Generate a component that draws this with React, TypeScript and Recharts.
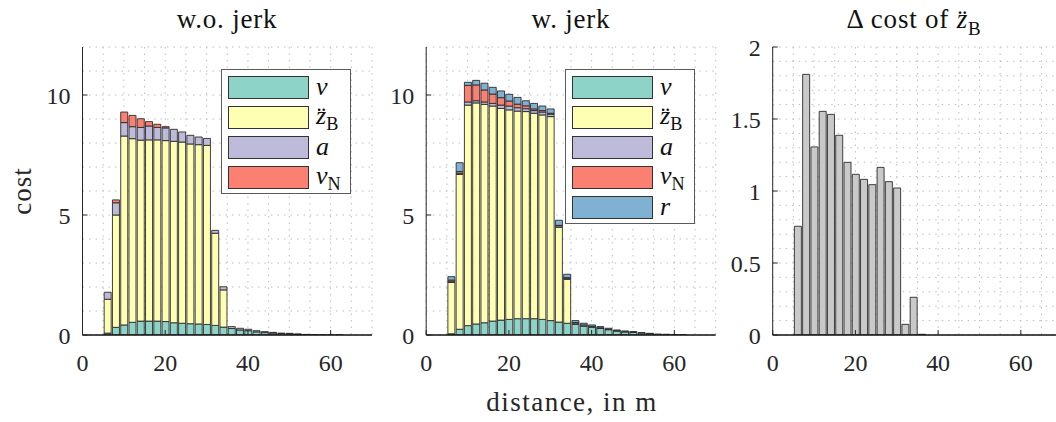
import React from 'react'
import { BarChart, Bar, XAxis, YAxis, CartesianGrid, Legend } from 'recharts'

const FONT = '"Liberation Serif", "DejaVu Serif", serif'
const INK = '#262626'

// distance bins, in m
const distance = [6, 8, 10, 12, 14, 16, 18, 20, 22, 24, 26, 28, 30, 32, 34, 36, 38, 40, 42, 44, 46, 48, 50, 52, 54, 56, 58, 60, 62]

// w.o. jerk
const vWo = [0.08, 0.32, 0.42, 0.53, 0.58, 0.58, 0.58, 0.56, 0.51, 0.49, 0.47, 0.46, 0.44, 0.4, 0.33, 0.27, 0.21, 0.18, 0.13, 0.1, 0.08, 0.06, 0.05, 0.03, 0.025, 0.015, 0.01, 0.006, 0.003]
const zbWo = [1.41, 4.68, 7.87, 7.65, 7.54, 7.55, 7.55, 7.54, 7.56, 7.55, 7.49, 7.47, 7.46, 3.84, 1.55, 0, 0, 0, 0, 0, 0, 0, 0, 0, 0, 0, 0, 0, 0]
const aWo = [0.29, 0.51, 0.56, 0.5, 0.53, 0.58, 0.52, 0.53, 0.5, 0.42, 0.36, 0.32, 0.29, 0.12, 0.13, 0.08, 0.07, 0.06, 0.05, 0.04, 0.03, 0.02, 0.02, 0.01, 0, 0, 0, 0, 0]
const vnWo = [0, 0.12, 0.44, 0.47, 0.36, 0.18, 0.13, 0.05, 0, 0, 0, 0, 0, 0, 0, 0, 0, 0, 0, 0, 0, 0, 0, 0, 0, 0, 0, 0, 0]

// w. jerk
const vW = [0.05, 0.24, 0.39, 0.46, 0.51, 0.58, 0.62, 0.65, 0.68, 0.68, 0.68, 0.65, 0.6, 0.54, 0.49, 0.44, 0.37, 0.32, 0.27, 0.22, 0.16, 0.13, 0.11, 0.08, 0.06, 0.04, 0.03, 0.02, 0.01]
const zbW = [2.14, 6.45, 9.19, 9.21, 9.1, 8.96, 8.82, 8.73, 8.65, 8.63, 8.56, 8.52, 8.5, 3.95, 1.83, 0, 0, 0, 0, 0, 0, 0, 0, 0, 0, 0, 0, 0, 0]
const aW = [0.03, 0.05, 0.13, 0.09, 0.1, 0.11, 0.14, 0.16, 0.14, 0.12, 0.11, 0.12, 0.1, 0.06, 0.05, 0.06, 0.05, 0.04, 0.03, 0.02, 0.02, 0.01, 0.01, 0, 0, 0, 0, 0, 0]
const vnW = [0.07, 0.07, 0.69, 0.66, 0.5, 0.39, 0.31, 0.21, 0.15, 0.12, 0.07, 0.06, 0.04, 0.02, 0.02, 0.02, 0, 0, 0, 0, 0, 0, 0, 0, 0, 0, 0, 0, 0]
const rW = [0.14, 0.37, 0.13, 0.19, 0.28, 0.28, 0.28, 0.28, 0.28, 0.21, 0.23, 0.19, 0.18, 0.21, 0.14, 0.08, 0.07, 0.06, 0.05, 0.04, 0.03, 0.03, 0.02, 0.02, 0.01, 0, 0, 0, 0]

// delta cost of zB
const deltaZb = [0.755, 1.81, 1.306, 1.553, 1.532, 1.387, 1.199, 1.116, 1.081, 1.044, 1.164, 1.065, 1.021, 0.074, 0.262, 0.005, 0, 0, 0, 0, 0, 0, 0, 0, 0, 0, 0, 0, 0]

const xTicks = [0, 20, 40, 60]
const xGrid = [0, 5, 10, 15, 20, 25, 30, 35, 40, 45, 50, 55, 60, 65, 70]
const costTicks = [0, 5, 10]
const costGrid = [0, 1, 2, 3, 4, 5, 6, 7, 8, 9, 10, 11, 12]
const deltaTicks = [0, 0.5, 1, 1.5, 2]
const deltaGrid = [0, 0.1, 0.2, 0.3, 0.4, 0.5, 0.6, 0.7, 0.8, 0.9, 1, 1.1, 1.2, 1.3, 1.4, 1.5, 1.6, 1.7, 1.8, 1.9, 2]

const sub = (t: string) => (
  <span style={{ fontSize: '0.7em', position: 'relative', top: '0.35em' }}>{t}</span>
)

const seriesWo = [
  { key: 'v', color: '#8dd3c7', label: <i>v</i> },
  { key: 'zb', color: '#ffffb3', label: <><i>z̈</i>{sub('B')}</> },
  { key: 'a', color: '#bebada', label: <i>a</i> },
  { key: 'vn', color: '#fb8072', label: <><i>v</i>{sub('N')}</> },
]
const seriesW = [...seriesWo, { key: 'r', color: '#80b1d3', label: <i>r</i> }]

const dataWo = distance.map((d, i) => ({ d, v: vWo[i], zb: zbWo[i], a: aWo[i], vn: vnWo[i] }))
const dataW = distance.map((d, i) => ({ d, v: vW[i], zb: zbW[i], a: aW[i], vn: vnW[i], r: rW[i] }))
const dataDelta = distance.map((d, i) => ({ d, delta: deltaZb[i] }))

const PLOT_W = 289.5
const tickStyle = { fill: INK, fontSize: 24, fontFamily: FONT }

function LegendBox({ series }: { series: typeof seriesW }) {
  return (
    <div style={{
      width: 130, height: series.length * 30 + 5, boxSizing: 'border-box',
      border: '1px solid #5a5a5a', background: '#fff', padding: '2px 0 0 6px', fontFamily: FONT, color: '#111',
    }}>
      {series.map(s => (
        <div key={s.key} style={{ display: 'flex', alignItems: 'center', height: 30 }}>
          <span style={{ width: 81, height: 23, background: s.color, border: '1px solid #333', boxSizing: 'border-box', flex: 'none' }} />
          <span style={{ marginLeft: 7, fontSize: 26, lineHeight: '26px' }}>{s.label}</span>
        </div>
      ))}
    </div>
  )
}

interface PanelProps {
  left: number
  yAxisWidth: number
  data: Array<Record<string, number>>
  series: Array<{ key: string; color: string }>
  yMax: number
  yTicks: number[]
  yGrid: number[]
  legend?: { left: number; series: typeof seriesW }
}

function Panel({ left, yAxisWidth, data, series, yMax, yTicks, yGrid, legend }: PanelProps) {
  const width = yAxisWidth + PLOT_W + 8
  return (
    <div style={{ position: 'absolute', left, top: 0 }}>
      <BarChart width={width} height={422} data={data} barSize={7}
        margin={{ top: 47, right: 8, bottom: 47, left: 0 }}>
        <CartesianGrid stroke="#bdbdbd" strokeDasharray="1.5 5" verticalValues={xGrid} horizontalValues={yGrid} />
        <XAxis dataKey="d" type="number" domain={[0, 70]} allowDataOverflow ticks={xTicks} interval={0}
          height={40} tickSize={-5} tickMargin={24} tick={tickStyle}
          axisLine={{ stroke: '#111', strokeWidth: 1.5 }} tickLine={{ stroke: INK }} />
        <XAxis xAxisId="top" orientation="top" dataKey="d" type="number" domain={[0, 70]} allowDataOverflow
          ticks={xTicks} interval={0} height={0} tickSize={-5} tickFormatter={() => ''}
          axisLine={{ stroke: INK }} tickLine={{ stroke: INK }} />
        <YAxis type="number" domain={[0, yMax]} allowDataOverflow ticks={yTicks} interval={0}
          width={yAxisWidth} tickSize={-5} tickMargin={17} tick={tickStyle}
          axisLine={{ stroke: INK }} tickLine={{ stroke: INK }} />
        <YAxis yAxisId="right" orientation="right" type="number" domain={[0, yMax]} allowDataOverflow
          ticks={yTicks} interval={0} width={0} tickSize={-5} tickFormatter={() => ''}
          axisLine={{ stroke: INK }} tickLine={{ stroke: INK }} />
        {series.map(s => (
          <Bar key={s.key} dataKey={s.key} stackId="s" fill={s.color} stroke="#2b2b2b" strokeWidth={0.9}
            isAnimationActive={false} />
        ))}
        {legend && (
          <Legend layout="vertical" align="center" verticalAlign="middle"
            wrapperStyle={{ left: legend.left, top: 69, width: 130 }}
            content={() => <LegendBox series={legend.series} />} />
        )}
      </BarChart>
    </div>
  )
}

const titleStyle: React.CSSProperties = {
  position: 'absolute', top: 4, fontFamily: FONT, fontSize: 27, color: '#111',
  transform: 'translateX(-50%)', whiteSpace: 'nowrap', letterSpacing: 0.8,
}

export default function App() {
  return (
    <div style={{ position: 'absolute', left: 0, top: 0, width: 1056, height: 422, overflow: 'hidden', background: '#fff' }}>
      <Panel left={0} yAxisWidth={82.5} data={dataWo} series={seriesWo} yMax={12}
        yTicks={costTicks} yGrid={costGrid} legend={{ left: 221, series: seriesWo }} />
      <Panel left={380} yAxisWidth={46.2} data={dataW} series={seriesW} yMax={12}
        yTicks={costTicks} yGrid={costGrid} legend={{ left: 185, series: seriesW }} />
      <Panel left={725} yAxisWidth={47.7} data={dataDelta} series={[{ key: 'delta', color: '#c9c9c9' }]} yMax={2}
        yTicks={deltaTicks} yGrid={deltaGrid} />

      <div style={{ ...titleStyle, left: 227 }}>w.o. jerk</div>
      <div style={{ ...titleStyle, left: 571 }}>w. jerk</div>
      <div style={{ ...titleStyle, left: 914 }}>Δ cost of <i>z̈</i>{sub('B')}</div>

      <div style={{
        position: 'absolute', left: 22, top: 191, fontFamily: FONT, fontSize: 27, color: INK, letterSpacing: 1,
        transform: 'translate(-50%, -50%) rotate(-90deg)', whiteSpace: 'nowrap',
      }}>cost</div>
      <div style={{
        position: 'absolute', left: 572, top: 402, fontFamily: FONT, fontSize: 27, color: INK, letterSpacing: 1.5,
        transform: 'translate(-50%, -50%)', whiteSpace: 'nowrap',
      }}>distance, in m</div>
    </div>
  )
}
